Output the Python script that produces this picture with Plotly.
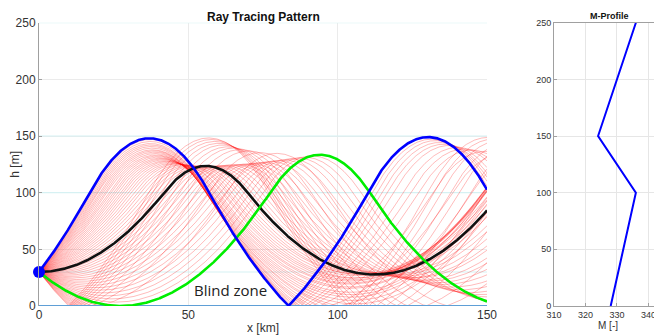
import numpy as np
import plotly.graph_objects as go

# ---------------- data ----------------
# M-profile (height [m] vs modified refractivity M [-])
m_heights = [0, 100, 150, 250]
m_values = [328, 336, 324, 336]

# antenna position
tx_x_km = 0
tx_h_m = 30

# launch elevations of the ray fan [mrad]
launch_mrad = [-3.44, -3.325, -3.211, -3.096, -2.981, -2.867, -2.752, -2.637, -2.523, -2.408,
               -2.293, -2.179, -2.064, -1.949, -1.835, -1.72, -1.605, -1.491, -1.376, -1.261,
               -1.147, -1.032, -0.917, -0.803, -0.688, -0.573, -0.459, -0.344, -0.229, -0.115,
               0.0,
               0.115, 0.229, 0.344, 0.459, 0.573, 0.688, 0.803, 0.917, 1.032, 1.147,
               1.261, 1.376, 1.491, 1.605, 1.72, 1.835, 1.949, 2.064, 2.179, 2.293,
               2.408, 2.523, 2.637, 2.752, 2.867, 2.981, 3.096, 3.211, 3.325, 3.44]

# highlighted rays [mrad]
ray_max_mrad = 3.44       # blue
ray_flat_mrad = 0.0       # black
ray_tangent_mrad = -2.19  # green

range_km = 150
layer_lines_m = [30, 100, 150, 250]
x_ticks = [0, 50, 100, 150]
h_ticks = [0, 50, 100, 150, 200, 250]
m_ticks = [310, 320, 330, 340]

blind_zone_label = "Blind zone"
blind_zone_x, blind_zone_h = 64, 14


# ---------------- ray tracing through the M-profile ----------------
def m_gradient(h):
    hs = m_heights
    ms = m_values
    for i in range(len(hs) - 1):
        if h < hs[i + 1] or i == len(hs) - 2:
            return (ms[i + 1] - ms[i]) / (hs[i + 1] - hs[i])
    return 0.0


def trace(slope_mrad, dx=0.1):
    n = int(round(range_km / dx))
    xs = np.empty(n + 1)
    hs = np.empty(n + 1)
    x, h, s = float(tx_x_km), float(tx_h_m), float(slope_mrad)
    xs[0], hs[0] = x, h
    for k in range(1, n + 1):
        g = m_gradient(h)
        h_new = h + s * dx + 0.5 * g * dx * dx
        s_new = s + g * dx
        if h_new < 0:  # ground reflection
            h_new = -h_new
            s_new = -s_new
        x += dx
        h, s = h_new, s_new
        xs[k], hs[k] = x, h
    return xs, hs


fig = go.Figure()

# layer reference lines
for lh in layer_lines_m:
    fig.add_trace(go.Scatter(x=[0, range_km], y=[lh, lh], mode="lines",
                             line=dict(color="#d6f1f3", width=1.2),
                             hoverinfo="skip", showlegend=False, xaxis="x", yaxis="y"))

# red ray fan (single trace)
rx, ry = [], []
for a in launch_mrad:
    xs, hs = trace(a)
    rx.extend(xs.tolist() + [None])
    ry.extend(hs.tolist() + [None])
fig.add_trace(go.Scatter(x=rx, y=ry, mode="lines",
                         line=dict(color="rgba(255,0,0,0.45)", width=0.6),
                         hoverinfo="skip", showlegend=False, xaxis="x", yaxis="y"))

# ground
fig.add_trace(go.Scatter(x=[0, range_km], y=[0, 0], mode="lines",
                         line=dict(color="#5f9fd6", width=2),
                         hoverinfo="skip", showlegend=False, xaxis="x", yaxis="y"))

for a, col in [(ray_flat_mrad, "#111111"), (ray_tangent_mrad, "#00ee00"), (ray_max_mrad, "#0000ff")]:
    xs, hs = trace(a)
    fig.add_trace(go.Scatter(x=xs, y=hs, mode="lines",
                             line=dict(color=col, width=2.6),
                             hoverinfo="skip", showlegend=False, xaxis="x", yaxis="y"))

# transmitter marker
fig.add_trace(go.Scatter(x=[tx_x_km], y=[tx_h_m], mode="markers",
                         marker=dict(color="#0000ff", size=12),
                         cliponaxis=False, showlegend=False, xaxis="x", yaxis="y"))

# M-profile
fig.add_trace(go.Scatter(x=m_values, y=m_heights, mode="lines",
                         line=dict(color="#0000ff", width=2),
                         showlegend=False, xaxis="x2", yaxis="y2"))

# page has an 8px body margin -> figure coordinates = page coordinates - 8
OFF = 8
W, H = 662 - OFF, 335 - OFF
left_px, right_px = 39 - OFF, 487 - OFF
top_px, bot_px = 22.7 - OFF, 306 - OFF
r_left_px = 554 - OFF
ydom = [(H - bot_px) / H, (H - top_px) / H]

font_main = "Liberation Sans, Arial, sans-serif"

fig.update_layout(
    width=W, height=H,
    margin=dict(l=0, r=0, t=0, b=0, autoexpand=False),
    paper_bgcolor="white", plot_bgcolor="white",
    font=dict(family=font_main, color="#333333"),
    xaxis=dict(domain=[left_px / W, right_px / W], range=[0, range_km], automargin=False,
               tickvals=x_ticks, tickfont=dict(size=12, color="#333333"),
               showgrid=True, gridcolor="#ebebeb", gridwidth=1,
               zeroline=False, showline=False, ticks="",
               title=dict(text="x [km]", font=dict(size=12, color="#333333"), standoff=6)),
    yaxis=dict(domain=ydom, range=[0, 250], tickvals=h_ticks, automargin=False,
               tickfont=dict(size=12, color="#333333"),
               showgrid=True, gridcolor="#ebebeb", gridwidth=1,
               zeroline=False, showline=True, linecolor="#a0a0a0", linewidth=1,
               ticks="inside", ticklen=3, tickcolor="#a0a0a0",
               title=dict(text="h [m]", font=dict(size=12, color="#333333"), standoff=2)),
    xaxis2=dict(domain=[r_left_px / W, 1.0], range=[310, 344.3], anchor="y2", automargin=False,
                tickvals=m_ticks, tickfont=dict(size=9, color="#333333"),
                showgrid=True, gridcolor="#e6e6e6", zeroline=False,
                showline=True, linecolor="#a0a0a0", mirror=True,
                ticks="inside", ticklen=3, tickcolor="#a0a0a0",
                title=dict(text="M [-]", font=dict(size=10, color="#333333"), standoff=2)),
    yaxis2=dict(domain=ydom, range=[0, 250], anchor="x2", tickvals=h_ticks, automargin=False,
                tickfont=dict(size=9, color="#333333"),
                showgrid=True, gridcolor="#e6e6e6", zeroline=False,
                showline=True, linecolor="#a0a0a0",
                ticks="inside", ticklen=3, tickcolor="#a0a0a0"),
    annotations=[
        dict(text="<b>Ray Tracing Pattern</b>", x=0.5 * range_km, y=1.0, xref="x", yref="paper",
             yanchor="top", yshift=0, showarrow=False,
             font=dict(size=12, color="#111111", family=font_main)),
        dict(text="<b>M-Profile</b>", x=327.7, y=ydom[1], xref="x2", yref="paper",
             yanchor="bottom", yshift=0, showarrow=False,
             font=dict(size=9, color="#111111", family=font_main)),
        dict(text=blind_zone_label, x=blind_zone_x, y=blind_zone_h, xref="x", yref="y",
             showarrow=False, font=dict(size=15, color="#222222", family="Open Sans, Noto Sans, sans-serif")),
    ],
)

fig.write_html("out.html")
